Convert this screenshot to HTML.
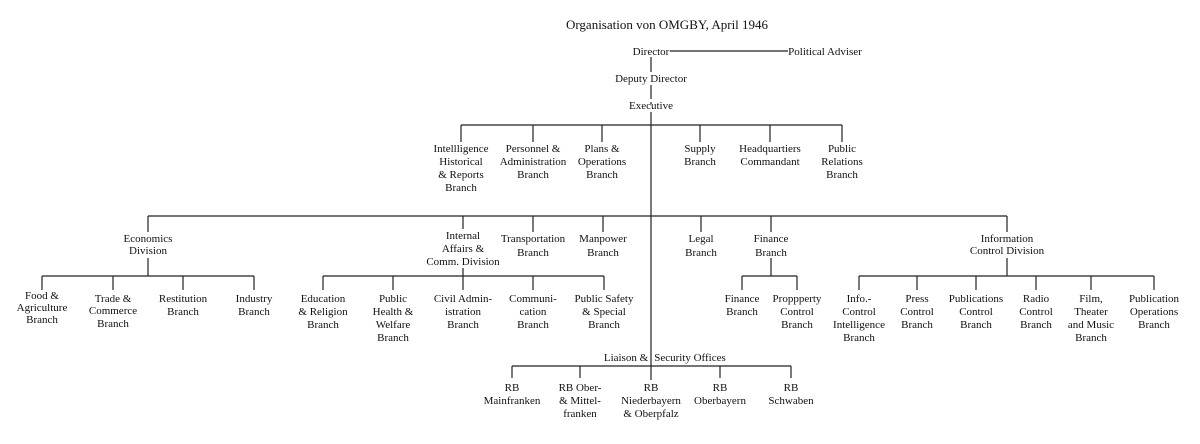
<!DOCTYPE html>
<html><head><meta charset="utf-8"><style>
html,body{margin:0;padding:0;background:#fff;}
svg{display:block;}
text{font-family:"Liberation Serif",serif;font-size:11px;fill:#111;text-anchor:middle;}
line{stroke:#222;stroke-width:1.2;}
</style></head><body>
<svg width="1200" height="444" viewBox="0 0 1200 444" xmlns="http://www.w3.org/2000/svg">
<rect width="1200" height="444" fill="#fff"/>
<text x="667" y="29" style="font-size:13px">Organisation von OMGBY, April 1946</text>
<text x="651" y="55">Director</text>
<line x1="670" y1="51" x2="788" y2="51"/>
<text x="825" y="55">Political Adviser</text>
<line x1="651" y1="57" x2="651" y2="72"/>
<text x="651" y="82">Deputy Director</text>
<line x1="651" y1="85" x2="651" y2="99"/>
<text x="651" y="109">Executive</text>
<line x1="651" y1="102" x2="651" y2="104"/>
<line x1="651" y1="112" x2="651" y2="366"/>
<line x1="651" y1="366" x2="651" y2="380"/>
<!-- row1 -->
<line x1="461" y1="125" x2="842" y2="125"/>
<line x1="461" y1="125" x2="461" y2="142"/>
<line x1="533" y1="125" x2="533" y2="142"/>
<line x1="602" y1="125" x2="602" y2="142"/>
<line x1="700" y1="125" x2="700" y2="142"/>
<line x1="770" y1="125" x2="770" y2="142"/>
<line x1="842" y1="125" x2="842" y2="142"/>
<text x="461" y="152">Intellligence</text><text x="461" y="165">Historical</text><text x="461" y="178">&amp; Reports</text><text x="461" y="191">Branch</text>
<text x="533" y="152">Personnel &amp;</text><text x="533" y="165">Administration</text><text x="533" y="178">Branch</text>
<text x="602" y="152">Plans &amp;</text><text x="602" y="165">Operations</text><text x="602" y="178">Branch</text>
<text x="700" y="152">Supply</text><text x="700" y="165">Branch</text>
<text x="770" y="152">Headquartiers</text><text x="770" y="165">Commandant</text>
<text x="842" y="152">Public</text><text x="842" y="165">Relations</text><text x="842" y="178">Branch</text>
<!-- row2 -->
<line x1="148" y1="216" x2="1007" y2="216"/>
<line x1="148" y1="216" x2="148" y2="232"/>
<line x1="463" y1="216" x2="463" y2="229"/>
<line x1="533" y1="216" x2="533" y2="232"/>
<line x1="603" y1="216" x2="603" y2="232"/>
<line x1="701" y1="216" x2="701" y2="232"/>
<line x1="771" y1="216" x2="771" y2="232"/>
<line x1="1007" y1="216" x2="1007" y2="232"/>
<text x="148" y="242">Economics</text><text x="148" y="254">Division</text>
<text x="463" y="239">Internal</text><text x="463" y="252">Affairs &amp;</text><text x="463" y="265">Comm. Division</text>
<text x="533" y="242">Transportation</text><text x="533" y="256">Branch</text>
<text x="603" y="242">Manpower</text><text x="603" y="256">Branch</text>
<text x="701" y="242">Legal</text><text x="701" y="256">Branch</text>
<text x="771" y="242">Finance</text><text x="771" y="256">Branch</text>
<text x="1007" y="242">Information</text><text x="1007" y="254">Control Division</text>
<!-- economics subtree -->
<line x1="148" y1="258" x2="148" y2="276"/>
<line x1="42" y1="276" x2="254" y2="276"/>
<line x1="42" y1="276" x2="42" y2="290"/><line x1="113" y1="276" x2="113" y2="290"/><line x1="183" y1="276" x2="183" y2="290"/><line x1="254" y1="276" x2="254" y2="290"/>
<text x="42" y="299">Food &amp;</text><text x="42" y="311">Agriculture</text><text x="42" y="323">Branch</text>
<text x="113" y="302">Trade &amp;</text><text x="113" y="314">Commerce</text><text x="113" y="327">Branch</text>
<text x="183" y="302">Restitution</text><text x="183" y="315">Branch</text>
<text x="254" y="302">Industry</text><text x="254" y="315">Branch</text>
<!-- internal affairs subtree -->
<line x1="463" y1="268" x2="463" y2="290"/>
<line x1="323" y1="276" x2="604" y2="276"/>
<line x1="323" y1="276" x2="323" y2="290"/><line x1="393" y1="276" x2="393" y2="290"/><line x1="533" y1="276" x2="533" y2="290"/><line x1="604" y1="276" x2="604" y2="290"/>
<text x="323" y="302">Education</text><text x="323" y="315">&amp; Religion</text><text x="323" y="328">Branch</text>
<text x="393" y="302">Public</text><text x="393" y="315">Health &amp;</text><text x="393" y="328">Welfare</text><text x="393" y="341">Branch</text>
<text x="463" y="302">Civil Admin-</text><text x="463" y="315">istration</text><text x="463" y="328">Branch</text>
<text x="533" y="302">Communi-</text><text x="533" y="315">cation</text><text x="533" y="328">Branch</text>
<text x="604" y="302">Public Safety</text><text x="604" y="315">&amp; Special</text><text x="604" y="328">Branch</text>
<!-- finance subtree -->
<line x1="771" y1="258" x2="771" y2="276"/>
<line x1="742" y1="276" x2="797" y2="276"/>
<line x1="742" y1="276" x2="742" y2="290"/><line x1="797" y1="276" x2="797" y2="290"/>
<text x="742" y="302">Finance</text><text x="742" y="315">Branch</text>
<text x="797" y="302">Proppperty</text><text x="797" y="315">Control</text><text x="797" y="328">Branch</text>
<!-- info subtree -->
<line x1="1007" y1="258" x2="1007" y2="276"/>
<line x1="859" y1="276" x2="1154" y2="276"/>
<line x1="859" y1="276" x2="859" y2="290"/><line x1="917" y1="276" x2="917" y2="290"/><line x1="976" y1="276" x2="976" y2="290"/><line x1="1036" y1="276" x2="1036" y2="290"/><line x1="1091" y1="276" x2="1091" y2="290"/><line x1="1154" y1="276" x2="1154" y2="290"/>
<text x="859" y="302">Info.-</text><text x="859" y="315">Control</text><text x="859" y="328">Intelligence</text><text x="859" y="341">Branch</text>
<text x="917" y="302">Press</text><text x="917" y="315">Control</text><text x="917" y="328">Branch</text>
<text x="976" y="302">Publications</text><text x="976" y="315">Control</text><text x="976" y="328">Branch</text>
<text x="1036" y="302">Radio</text><text x="1036" y="315">Control</text><text x="1036" y="328">Branch</text>
<text x="1091" y="302">Film,</text><text x="1091" y="315">Theater</text><text x="1091" y="328">and Music</text><text x="1091" y="341">Branch</text>
<text x="1154" y="302">Publication</text><text x="1154" y="315">Operations</text><text x="1154" y="328">Branch</text>
<!-- liaison -->
<text x="626" y="361">Liaison &amp;</text><text x="690" y="361">Security Offices</text>
<line x1="512" y1="366" x2="791" y2="366"/>
<line x1="512" y1="366" x2="512" y2="378"/><line x1="580" y1="366" x2="580" y2="378"/><line x1="720" y1="366" x2="720" y2="378"/><line x1="791" y1="366" x2="791" y2="378"/>
<text x="512" y="391">RB</text><text x="512" y="404">Mainfranken</text>
<text x="580" y="391">RB Ober-</text><text x="580" y="404">&amp; Mittel-</text><text x="580" y="417">franken</text>
<text x="651" y="391">RB</text><text x="651" y="404">Niederbayern</text><text x="651" y="417">&amp; Oberpfalz</text>
<text x="720" y="391">RB</text><text x="720" y="404">Oberbayern</text>
<text x="791" y="391">RB</text><text x="791" y="404">Schwaben</text>
</svg>
</body></html>
